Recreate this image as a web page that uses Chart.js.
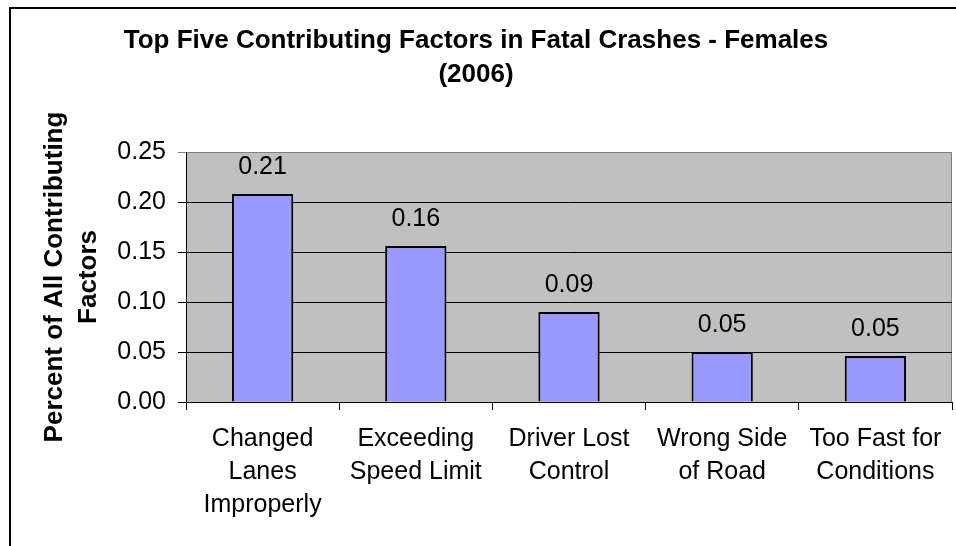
<!DOCTYPE html>
<html>
<head>
<meta charset="utf-8">
<script src="https://cdn.jsdelivr.net/npm/chart.js@4.4.1/dist/chart.umd.min.js"></script>
<style>
  body { margin: 0; background: #fff; }
  canvas { display: block; }
</style>
</head>
<body>
<canvas id="chart" width="956" height="546"></canvas>
<script>
// data
const categories = [
    ["Changed", "Lanes", "Improperly"],
    ["Exceeding", "Speed Limit"],
    ["Driver Lost", "Control"],
    ["Wrong Side", "of Road"],
    ["Too Fast for", "Conditions"]
];
const shares = [0.208, 0.156, 0.090, 0.050, 0.046];
const yMin = 0;
const yMax = 0.25;
const yStep = 0.05;

const titleLines = ["Top Five Contributing Factors in Fatal Crashes - Females", "(2006)"];
const yTitleLines = ["Percent of All Contributing", "Factors"];

Chart.defaults.font.family = "'Liberation Sans', Arial, sans-serif";
Chart.defaults.color = "#000";

// white page, frame, grey plot area
const backdrop = {
    id: "backdrop",
    beforeDraw(chart){
        const c = chart.ctx, a = chart.chartArea;
        c.save();
        c.fillStyle = "#fff";
        c.fillRect(0, 0, chart.width, chart.height);
        c.strokeStyle = "#000";
        c.lineWidth = 2;
        c.beginPath();
        c.moveTo(10, chart.height);
        c.lineTo(10, 8);
        c.lineTo(chart.width, 8);
        c.stroke();
        c.fillStyle = "#C0C0C0";
        c.fillRect(a.left, a.top, a.right - a.left, a.bottom - a.top);
        c.strokeStyle = "#808080";
        c.lineWidth = 1;
        c.strokeRect(a.left + 0.5, a.top + 0.5, a.right - a.left - 1, a.bottom - a.top);
        c.restore();
    }
};

// value labels over the bars
const barLabels = {
    id: "barLabels",
    afterDatasetsDraw(chart){
        const c = chart.ctx;
        const meta = chart.getDatasetMeta(0);
        c.save();
        c.font = "25px 'Liberation Sans', Arial, sans-serif";
        c.fillStyle = "#000";
        c.textAlign = "center";
        c.textBaseline = "alphabetic";
        meta.data.forEach((bar, i)=>{
            c.fillText(shares[i].toFixed(2), bar.x, bar.y - 20);
        });
        c.restore();
    }
};

new Chart(document.getElementById("chart"), {
    type: "bar",
    data: {
        labels: categories,
        datasets: [{
            data: shares,
            backgroundColor: "#9999FF",
            borderColor: "#000",
            borderWidth: 2,
            barPercentage: 0.4,
            categoryPercentage: 1
        }]
    },
    options: {
        responsive: false,
        devicePixelRatio: 1,
        animation: false,
        layout: { padding: { left: 0, right: 4, top: 0, bottom: 0 } },
        plugins: {
            legend: { display: false },
            tooltip: { enabled: false },
            title: {
                display: true,
                text: titleLines,
                color: "#000",
                font: { size: 26, weight: "bold", lineHeight: 1.3 },
                padding: { top: 24, bottom: 60.4 }
            }
        },
        scales: {
            x: {
                afterFit(scale){ scale.height = 144; },
                grid: {
                    display: true,
                    drawOnChartArea: false,
                    drawTicks: true,
                    tickLength: 8,
                    color: "#000",
                    offset: true
                },
                border: { display: true, color: "#000", width: 1 },
                ticks: {
                    color: "#000",
                    padding: 13,
                    maxRotation: 0,
                    autoSkip: false,
                    font: { size: 25, lineHeight: 1.32 }
                }
            },
            y: {
                min: yMin,
                max: yMax,
                afterFit(scale){ scale.width = 186; },
                grid: {
                    color: ctx => (ctx.tick && ctx.tick.value >= yMax - 1e-9) ? "#808080" : "#000",
                    lineWidth: 1,
                    drawTicks: true,
                    tickLength: 8
                },
                border: { display: true, color: "#000", width: 1 },
                ticks: {
                    stepSize: yStep,
                    color: "#000",
                    padding: 12,
                    font: { size: 25 },
                    callback: v => Number(v).toFixed(2)
                },
                title: {
                    display: true,
                    text: yTitleLines,
                    color: "#000",
                    font: { size: 26, weight: "bold", lineHeight: 1.3 },
                    padding: { top: 38, bottom: 0 }
                }
            }
        }
    },
    plugins: [backdrop, barLabels]
});
</script>
</body>
</html>
